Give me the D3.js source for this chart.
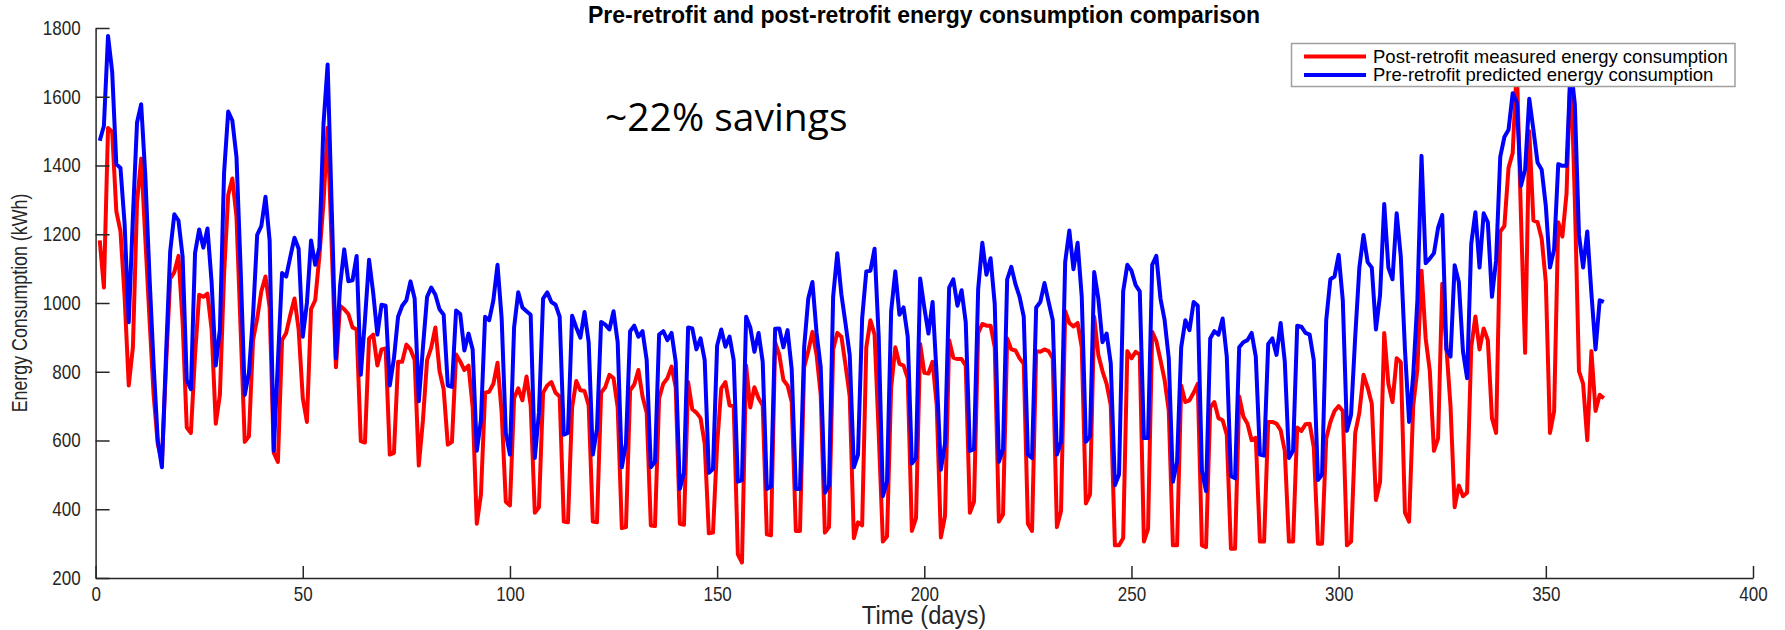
<!DOCTYPE html>
<html>
<head>
<meta charset="utf-8">
<script src="https://cdn.jsdelivr.net/npm/d3@7"></script>
<style>
  html, body { margin: 0; padding: 0; background: #fff; }
  svg { display: block; }
  .ax text { font-family: "Liberation Sans", Arial, sans-serif; font-size: 20px; fill: #262626; }
  .ax path, .ax line { stroke: #262626; stroke-width: 1.5; }
</style>
</head>
<body>
<svg id="chart" width="1785" height="630"></svg>
<script>
const title = "Pre-retrofit and post-retrofit energy consumption comparison";
const xLabel = "Time (days)";
const yLabel = "Energy Consumption (kWh)";
const annotation = "~22% savings";
const seriesNames = ["Post-retrofit measured energy consumption", "Pre-retrofit predicted energy consumption"];
const seriesColors = ["#ff0000", "#0000ff"];
const xTicks = [0, 50, 100, 150, 200, 250, 300, 350, 400];
const yTicks = [200, 400, 600, 800, 1000, 1200, 1400, 1600, 1800];

// Post-retrofit measured (red), days 1..364
const measured = [
1182,1045,1509,1498,1267,1209,1018,760,871,1293,1420,1187,955,733,590,540,818,1071,1090,1137,
944,638,622,850,1024,1018,1027,923,649,733,1082,1314,1362,1251,923,596,612,892,955,1034,
1077,987,564,538,892,913,966,1013,923,723,654,982,1008,1135,1293,1510,1160,813,992,982,
968,929,923,598,594,897,908,818,865,868,559,564,829,829,879,865,834,527,659,834,
870,929,802,749,588,596,850,830,805,818,696,358,443,739,742,765,826,681,422,411,
723,752,717,786,702,390,406,739,760,770,739,728,364,362,696,773,746,744,702,364,
362,739,755,791,781,696,345,348,746,763,805,728,681,353,351,723,765,781,815,755,
358,355,770,691,681,665,591,330,332,588,752,770,702,700,269,245,818,696,755,723,
702,327,324,886,849,776,760,712,337,337,813,860,916,849,733,332,348,865,913,902,
818,728,316,362,353,871,950,908,620,306,321,754,871,823,818,781,337,374,881,797,
795,829,702,318,380,892,841,837,837,818,390,422,913,939,934,934,871,364,385,897,
865,862,839,823,358,337,860,858,865,860,839,348,395,976,942,932,942,871,417,443,
960,849,802,765,702,295,295,316,860,839,858,850,306,343,916,889,834,776,686,295,
295,760,712,717,739,765,295,290,696,712,665,659,617,285,285,728,670,649,601,608,
306,306,654,654,649,630,570,306,306,638,628,647,649,580,300,300,606,654,686,700,
686,295,306,622,681,791,754,707,427,480,913,765,712,839,828,390,364,702,807,1094,
897,802,570,606,1056,871,700,406,469,438,448,871,961,865,926,892,665,622,1208,1224,
1393,1436,1690,1250,855,1500,1240,1235,1187,1061,622,685,1235,1193,1319,1700,1300,802,765,601,
860,686,733,723
];

// Pre-retrofit predicted (blue), days 1..364
const predicted = [
1472,1515,1777,1673,1404,1393,1230,944,1250,1525,1578,1370,1080,820,600,522,850,1150,1258,1240,
1135,775,749,1145,1214,1161,1217,1060,818,923,1377,1557,1531,1425,1100,733,797,965,1198,1224,
1309,1182,570,830,1087,1077,1135,1190,1158,902,1000,1182,1111,1161,1520,1694,1270,839,1050,1156,
1063,1066,1137,791,950,1126,1029,908,995,992,760,839,960,992,1008,1063,1013,714,871,1018,
1045,1024,982,966,760,756,978,968,862,911,865,570,659,960,950,1008,1111,955,622,559,
929,1031,987,976,966,549,681,1013,1031,1003,995,960,617,622,963,929,899,974,886,559,
633,945,937,923,976,886,522,591,918,934,902,918,834,522,538,908,918,892,913,829,
459,506,929,926,865,897,834,506,517,876,923,873,902,834,480,485,960,929,858,913,
829,459,466,925,926,871,921,807,459,459,871,1013,1061,913,813,448,469,1018,1145,1024,
939,849,522,559,955,1092,1094,1158,900,438,480,976,1092,966,987,902,533,549,1071,987,
911,1003,786,515,591,1045,1069,992,1037,944,570,575,1040,1175,1082,1130,997,538,575,1069,
1105,1055,1018,960,559,549,987,1003,1058,1003,950,559,596,1119,1211,1098,1175,1018,596,612,
1090,1013,886,911,825,470,501,1034,1111,1094,1052,1034,607,607,1111,1137,1013,950,839,480,
538,871,950,921,1003,992,512,453,897,918,908,955,844,496,490,871,886,892,913,844,
559,556,881,897,849,942,830,549,570,934,931,913,908,834,485,501,950,1069,1077,1140,
1008,628,675,902,1103,1198,1119,1103,923,1024,1288,1103,1069,1261,1135,865,654,791,1008,1428,
1116,1129,1145,1219,1256,865,844,1110,1061,860,781,1172,1264,1103,1261,1235,1018,1124,1425,1483,
1504,1610,1584,1341,1388,1594,1504,1409,1388,1282,1103,1156,1404,1399,1399,1690,1578,1198,1103,1208,
1029,865,1008,1003
];

const days = measured.map((_, i) => i + 1);
const SX = 0.85; // horizontal condensing of MATLAB-like text

const svg = d3.select("#chart");
const x = d3.scaleLinear().domain([0, 400]).range([95.6, 1753]);
const y = d3.scaleLinear().domain([200, 1800]).range([578, 28]);

// Lines (red first, blue on top)
const line = d3.line().x((d, i) => x(days[i])).y(d => y(d));
[measured, predicted].forEach((s, k) => {
  svg.append("path").datum(s)
    .attr("fill", "none")
    .attr("stroke", seriesColors[k])
    .attr("stroke-width", 4)
    .attr("stroke-linejoin", "round")
    .attr("d", line);
});

// Axes
const xAxis = d3.axisBottom(x).tickValues(xTicks).tickFormat(d3.format("d"))
  .tickSizeInner(-12).tickSizeOuter(0).tickPadding(9);
const yAxis = d3.axisLeft(y).tickValues(yTicks).tickFormat(d3.format("d"))
  .tickSizeInner(-14).tickSizeOuter(0).tickPadding(15);
const gx = svg.append("g").attr("class", "ax").attr("transform", "translate(0,578)").call(xAxis);
const gy = svg.append("g").attr("class", "ax").attr("transform", "translate(95.6,0)").call(yAxis);
gx.selectAll(".tick text").attr("transform", `scale(${SX},1)`);
gy.selectAll(".tick text").attr("x", -15 / SX).attr("transform", `scale(${SX},1)`);

const placeText = (sel, cx, cy, size, sx, rot) => {
  sel.attr("transform", `translate(${cx},${cy}) rotate(${rot || 0}) scale(${sx},1)`)
    .attr("text-anchor", "middle")
    .style("font-family", '"Liberation Sans", Arial, sans-serif')
    .style("font-size", size + "px");
};

// Axis labels
placeText(svg.append("text").attr("fill", "#262626").text(xLabel), 924, 624, 25, 0.95);
placeText(svg.append("text").attr("fill", "#262626").text(yLabel), 27, 303, 22, 0.81, -90);

// Title
placeText(svg.append("text").attr("fill", "#000").style("font-weight", "bold").text(title), 924, 23, 23, 1.0);

// Annotation
svg.append("text").attr("x", 605).attr("y", 131)
  .style("font-family", '"Open Sans", "Noto Sans", sans-serif')
  .style("font-size", "39px").attr("fill", "#000")
  .text(annotation);

// Legend
const lg = svg.append("g");
lg.append("rect").attr("x", 1291.5).attr("y", 43.5).attr("width", 443.5).attr("height", 43)
  .attr("fill", "#fff").attr("stroke", "#a0a0a0").attr("stroke-width", 1.5);
seriesNames.forEach((n, k) => {
  const yy = 56.5 + k * 18.5;
  lg.append("line").attr("x1", 1304).attr("x2", 1366).attr("y1", yy).attr("y2", yy)
    .attr("stroke", seriesColors[k]).attr("stroke-width", 4);
  lg.append("text").attr("x", 1373).attr("y", yy + 6)
    .style("font-family", '"Liberation Sans", Arial, sans-serif')
    .style("font-size", "18.5px").attr("fill", "#000")
    .text(n);
});
</script>
</body>
</html>
